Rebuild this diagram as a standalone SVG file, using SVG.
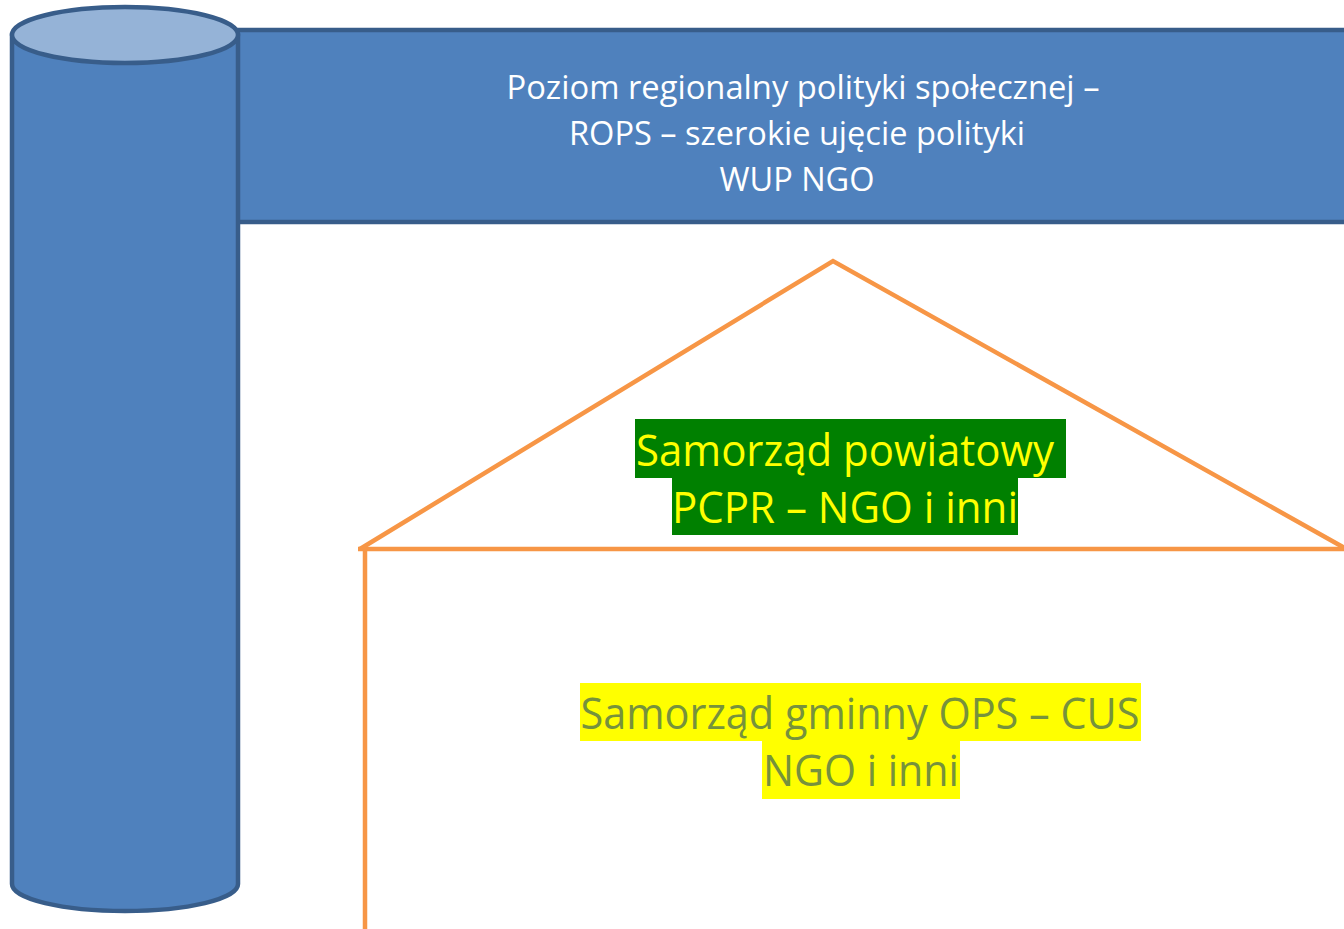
<svg xmlns="http://www.w3.org/2000/svg" width="1344" height="929" viewBox="0 0 1344 929">
<style>
.blue{fill:#4F81BD;stroke:#385D8A;stroke-width:4.5}
.top{fill:#95B3D7;stroke:#385D8A;stroke-width:4.5}
.org{fill:none;stroke:#F79646;stroke-width:4.5;stroke-linejoin:miter}
.t{font-family:"Open Sans","Noto Sans","Liberation Sans",sans-serif;text-anchor:middle}
.wt{fill:#FFFFFF;font-size:33px}
.yt{fill:#FFFF00;font-size:44px}
.ot{fill:#76923C;font-size:44px}
</style>
<rect width="1344" height="929" fill="#FFFFFF"/>
<g id="banner">
<rect class="blue" x="237" y="30" width="1120" height="192"/>
<text class="t wt" x="803" y="99" textLength="593" lengthAdjust="spacingAndGlyphs">Poziom regionalny polityki społecznej –</text>
<text class="t wt" x="797" y="145" textLength="456" lengthAdjust="spacingAndGlyphs">ROPS – szerokie ujęcie polityki</text>
<text class="t wt" x="797" y="191" textLength="155" lengthAdjust="spacingAndGlyphs">WUP NGO</text>
</g>
<g id="cylinder">
<path class="blue" d="M12,35 L12,884 A113,27 0 0 0 238,884 L238,35 Z"/>
<ellipse class="top" cx="125" cy="35" rx="113" ry="28"/>
</g>
<g id="connectors">
<polyline class="org" points="360,549 833,261 1350,551"/>
<line class="org" x1="358" y1="549" x2="1344" y2="549"/>
<line class="org" x1="365" y1="549" x2="365" y2="929"/>
</g>
<g id="powiat">
<rect x="635" y="419" width="431" height="59" fill="#008000"/>
<rect x="672" y="478" width="346" height="57" fill="#008000"/>
<text class="t yt" x="845" y="466" textLength="418" lengthAdjust="spacingAndGlyphs">Samorząd powiatowy</text>
<text class="t yt" x="845" y="523" textLength="346" lengthAdjust="spacingAndGlyphs">PCPR – NGO i inni</text>
</g>
<g id="gmina">
<rect x="580" y="683" width="561" height="58" fill="#FFFF00"/>
<rect x="762" y="741" width="198" height="58" fill="#FFFF00"/>
<text class="t ot" x="860" y="729" textLength="559" lengthAdjust="spacingAndGlyphs">Samorząd gminny OPS – CUS</text>
<text class="t ot" x="861" y="786" textLength="196" lengthAdjust="spacingAndGlyphs">NGO i inni</text>
</g>
</svg>
